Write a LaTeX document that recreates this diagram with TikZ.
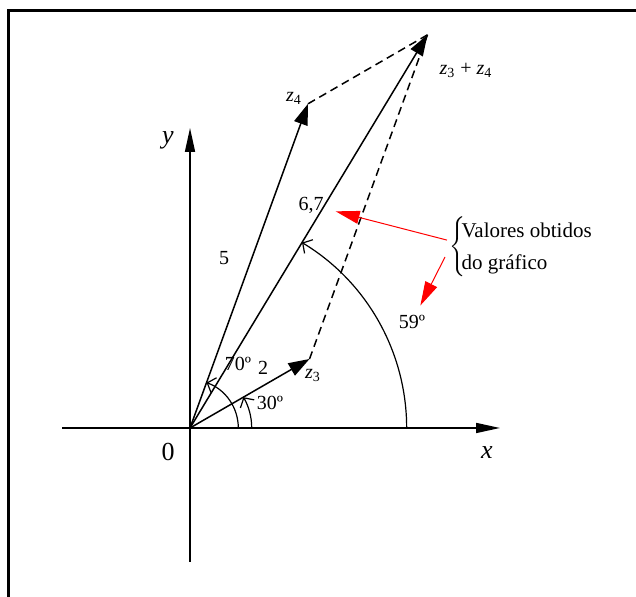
\documentclass[tikz,border=0pt]{standalone}
\usepackage{fontspec}
\setmainfont{Liberation Serif}
\usetikzlibrary{arrows.meta,calc,positioning}
\definecolor{markred}{HTML}{FF0000}
\newcommand{\zsub}[1]{\textit{z}\textsubscript{#1}}
\tikzset{
    every node/.style={font=\fontsize{10}{12}\selectfont,inner sep=2pt},
    axis/.style={line width=0.8pt,-{Triangle[length=12pt,width=5pt]}},
    vec/.style={line width=0.75pt,-{Triangle[length=10.5pt,width=7pt]}},
    helper/.style={line width=0.75pt,dash pattern=on 4pt off 2.5pt},
    anglearc/.style={line width=0.6pt,-{Straight Barb[length=3.5pt,width=8pt]}},
    redarrow/.style={draw=markred,line width=0.5pt,-{Triangle[length=12pt,width=6.5pt]}},
    axislbl/.style={font=\fontsize{13}{15}\selectfont}
}

\begin{document}
\begin{tikzpicture}[x=34.5pt,y=34.5pt]
\useasboundingbox (-2.754,-2.449) rectangle (6.464,6.203);
\draw[line width=1.5pt] (-2.631,-2.6) -- (-2.631,6.051) -- (6.6,6.051);
\coordinate (O) at (0,0);
\coordinate (z3) at (30:2);
\coordinate (z4) at (70:5);
\coordinate (soma) at ($(z3)+(z4)$);
\coordinate (xmin) at (-1.855,0);
\coordinate (xmax) at (4.493,0);
\coordinate (ymin) at (0,-1.942);
\coordinate (ymax) at (0,4.348);
\draw[axis] (xmin) -- (xmax);
\draw[axis] (ymin) -- (ymax);
\draw[helper] (z4) -- (soma);
\draw[helper] (z3) -- (soma);
\draw[vec] (O) -- (z3);
\draw[vec] (O) -- (z4);
\draw[vec] (O) -- (soma);
\draw[anglearc] (0.894,0) arc[start angle=0,end angle=30,radius=0.894];
\draw[anglearc] (0.70,0) arc[start angle=0,end angle=70,radius=0.70];
\draw[anglearc] (3.14,0) arc[start angle=0,end angle=58.86,radius=3.14];
\node[axislbl] (lblx) at (4.304,-0.362) {\textit{x}};
\node[axislbl] (lbly) at (-0.319,4.174) {\textit{y}};
\node[axislbl] (lblO) at (-0.319,-0.348) {0};
\node (lbl5) at (0.493,2.464) {5};
\node (lbl67) at (1.754,3.232) {6,7};
\node (lbl2) at (1.058,0.870) {2};
\node (lbl70) at (0.696,0.928) {70º};
\node (lbl30) at (1.159,0.362) {30º};
\node (lbl59) at (3.217,1.536) {59º};
\node (lblz4) at (1.507,4.783) {\zsub{4}};
\node (lblz3) at (1.783,0.754) {\zsub{3}};
\node (lblsoma) at (4.0,5.188) {\zsub{3} + \zsub{4}};
\node[anchor=west,inner sep=0pt,font=\fontsize{10.5}{12.6}\selectfont] (valores) at (3.75,2.623)
    {\renewcommand{\arraystretch}{1.3}$\left\{\!\begin{tabular}{@{}l@{}}Valores obtidos\\do gráfico\end{tabular}\right.$};
\coordinate (v1) at ($(valores.west)+(-0.025,0.1)$);
\coordinate (v2) at ($(valores.west)+(-0.054,-0.145)$);
\draw[redarrow,shorten >=4pt] (v1) -- (lbl67);
\draw[redarrow,shorten >=3pt] (v2) -- (lbl59);
\end{tikzpicture}
\end{document}
